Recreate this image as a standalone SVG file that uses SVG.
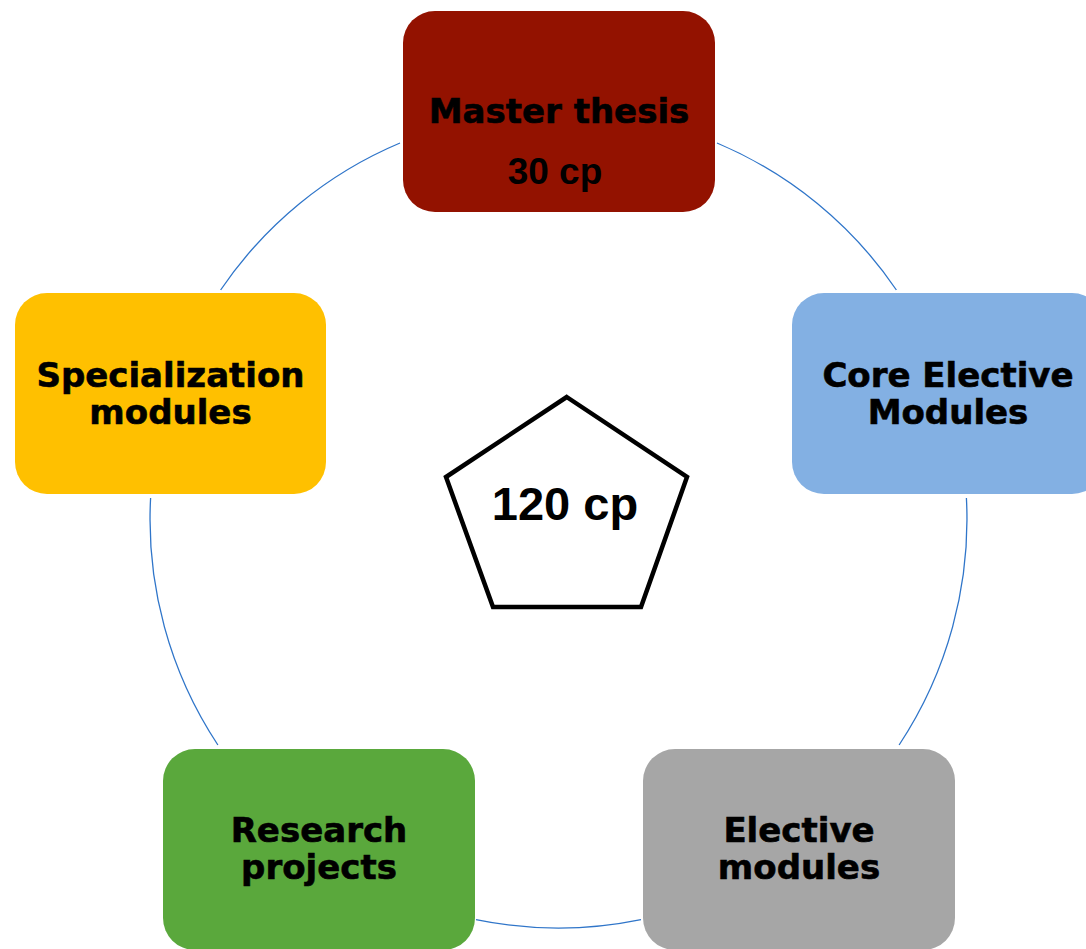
<svg xmlns="http://www.w3.org/2000/svg" width="1086" height="949" viewBox="0 0 1086 949">
<style>
.box{stroke:none}
.lbl{font-family:"DejaVu Sans",Verdana,sans-serif;font-weight:bold;font-size:34px;fill:#000;stroke:#000;stroke-width:0.6;text-anchor:middle}
.num{font-family:"Liberation Sans",Arial,sans-serif;font-weight:bold;fill:#000;text-anchor:middle}
.arc{fill:none;stroke:#2F75C9;stroke-width:1.3}
</style>
<rect width="1086" height="949" fill="#fff"/>
<g id="connectors">
<path class="arc" d="M220.6,290 A408.5,408.5 0 0 1 400,143"/>
<path class="arc" d="M717,143 A408.5,408.5 0 0 1 896.4,290"/>
<path class="arc" d="M966.4,498 A408.5,408.5 0 0 1 899.1,745"/>
<path class="arc" d="M641,919.6 A408.5,408.5 0 0 1 476,919.6"/>
<path class="arc" d="M217.9,745 A408.5,408.5 0 0 1 150.6,498"/>
</g>
<g id="master">
<rect class="box" x="403" y="11" width="312" height="201" rx="32" fill="#931200"/>
<text class="lbl" x="559" y="123">Master thesis</text>
<text class="num" x="555" y="184" font-size="37">30 cp</text>
</g>
<g id="core">
<rect class="box" x="792" y="293" width="312" height="201" rx="32" fill="#83B0E3"/>
<text class="lbl" x="948" y="387">Core Elective</text>
<text class="lbl" x="948" y="424">Modules</text>
</g>
<g id="specialization">
<rect class="box" x="15" y="293" width="311" height="201" rx="32" fill="#FFC000"/>
<text class="lbl" x="170.5" y="387">Specialization</text>
<text class="lbl" x="170.5" y="424">modules</text>
</g>
<g id="research">
<rect class="box" x="163" y="749" width="312" height="201" rx="32" fill="#5AA83C"/>
<text class="lbl" x="319" y="842">Research</text>
<text class="lbl" x="319" y="879">projects</text>
</g>
<g id="elective">
<rect class="box" x="643" y="749" width="312" height="201" rx="32" fill="#A6A6A6"/>
<text class="lbl" x="799" y="842">Elective</text>
<text class="lbl" x="799" y="879">modules</text>
</g>
<g id="total">
<polygon points="566.7,397 687,477 641,607 493,607 446,477" fill="#fff" stroke="#000" stroke-width="4.5" stroke-linejoin="miter"/>
<text class="num" x="565" y="520" font-size="47">120 cp</text>
</g>
</svg>
